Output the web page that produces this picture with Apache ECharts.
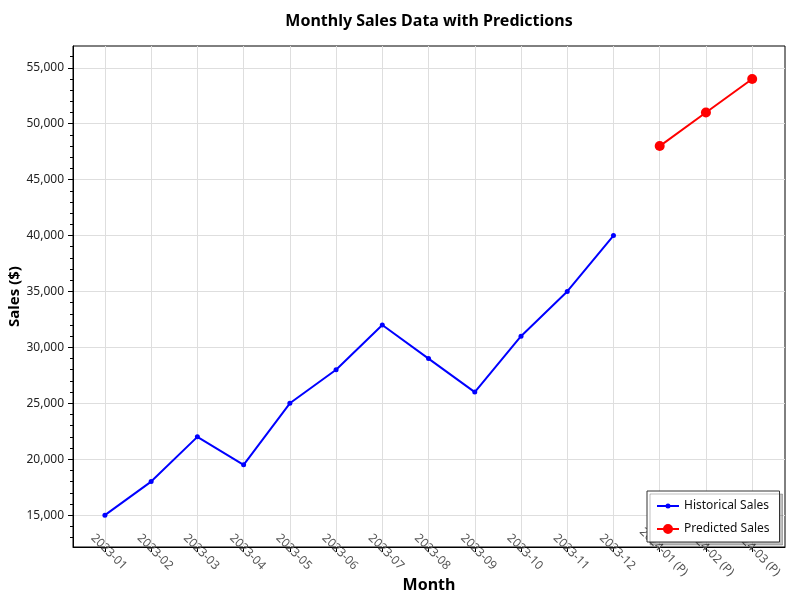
<!DOCTYPE html>
<html>
<head>
<meta charset="utf-8">
<script src="https://cdn.jsdelivr.net/npm/echarts@6/dist/echarts.min.js"></script>
<style>html,body{margin:0;padding:0;background:#fff}#c{width:800px;height:600px}</style>
</head>
<body>
<div id="c"></div>
<script>
const months = ['2023-01','2023-02','2023-03','2023-04','2023-05','2023-06','2023-07','2023-08','2023-09','2023-10','2023-11','2023-12','2024-01 (P)','2024-02 (P)','2024-03 (P)'];
const historicalSales = [15000, 18000, 22000, 19500, 25000, 28000, 32000, 29000, 26000, 31000, 35000, 40000];
const predictedSales = [48000, 51000, 54000];
const yTicks = [15000, 20000, 25000, 30000, 35000, 40000, 45000, 50000, 55000];
const yMinorTicks = [13000,14000,16000,17000,18000,19000,21000,22000,23000,24000,26000,27000,28000,29000,31000,32000,33000,34000,36000,37000,38000,39000,41000,42000,43000,44000,46000,47000,48000,49000,51000,52000,53000,54000,56000];

const xIdx = months.map((m, i) => i);
const predStart = historicalSales.length;
const font = '"Noto Sans", "DejaVu Sans", sans-serif';

const iconSmall = 'path://M0,6 L22,6 L22,8 L0,8 Z M8.5,7 A2.5,2.5 0 1 1 13.5,7 A2.5,2.5 0 1 1 8.5,7 Z';
const iconBig = 'path://M0,6 L22,6 L22,8 L0,8 Z M6,7 A5,5 0 1 1 16,7 A5,5 0 1 1 6,7 Z';

const chart = echarts.init(document.getElementById('c'));
chart.setOption({
  animation: false,
  textStyle: { fontFamily: font },
  title: {
    text: 'Monthly Sales Data with Predictions',
    left: 424, top: 8, textAlign: 'center',
    textStyle: { fontSize: 16, fontWeight: 'bold', color: '#000', fontFamily: font }
  },
  grid: { left: 73, right: 15, top: 46, bottom: 53, show: true, borderColor: '#000', borderWidth: 1, containLabel: false, outerBoundsMode: 'none' },
  legend: {
    orient: 'vertical', left: 647, top: 491,
    backgroundColor: '#fff', borderColor: '#333', borderWidth: 1, borderRadius: 0,
    padding: [9, 10, 7, 10], itemGap: 11, itemWidth: 22, itemHeight: 14,
    symbolKeepAspect: true,
    shadowColor: 'rgba(0,0,0,0.25)', shadowOffsetX: 3, shadowOffsetY: 3, shadowBlur: 0,
    textStyle: { fontSize: 12, color: '#111', fontFamily: font },
    data: [
      { name: 'Historical Sales', icon: iconSmall },
      { name: 'Predicted Sales', icon: iconBig }
    ]
  },
  xAxis: {
    type: 'value', min: -0.69, max: 14.71,
    name: 'Month', nameLocation: 'middle', nameGap: 30, nameMoveOverlap: false,
    nameTextStyle: { fontSize: 16, fontWeight: 'bold', color: '#000', fontFamily: font },
    axisLine: { onZero: false, lineStyle: { color: '#000', width: 1 } },
    axisTick: { show: true, inside: false, length: 5, customValues: xIdx, lineStyle: { color: '#000' } },
    axisLabel: {
      customValues: xIdx, rotate: -45, align: 'center', verticalAlign: 'middle', margin: 1,
      padding: [0, 0, 9, 11],
      fontSize: 12, color: '#555', fontFamily: font,
      formatter: v => months[Math.round(v)]
    },
    splitLine: { show: true, lineStyle: { color: '#dedede', width: 1 } }
  },
  yAxis: [{
    type: 'value', min: 12150, max: 56950,
    name: 'Sales ($)', nameLocation: 'middle', nameGap: 51, nameMoveOverlap: false,
    nameTextStyle: { fontSize: 15, fontWeight: 'bold', color: '#000', fontFamily: font },
    axisLine: { show: true, onZero: false, lineStyle: { color: '#000', width: 1 } },
    axisTick: { show: true, length: 5, customValues: yTicks, lineStyle: { color: '#000' } },
    axisLabel: {
      customValues: yTicks, fontSize: 12, color: '#222', margin: 9, fontFamily: font,
      formatter: v => v.toLocaleString('en-US')
    },
    splitLine: { show: true, lineStyle: { color: '#dedede', width: 1 } }
  }, {
    type: 'value', min: 12150, max: 56950, position: 'left',
    axisLine: { show: false, onZero: false },
    axisTick: { show: true, length: 3, customValues: yMinorTicks, lineStyle: { color: '#000' } },
    axisLabel: { show: false },
    splitLine: { show: false }
  }],
  series: [{
    name: 'Historical Sales', type: 'line', yAxisIndex: 0,
    data: historicalSales.map((v, i) => [xIdx[i], v]),
    symbol: 'circle', symbolSize: 5,
    lineStyle: { color: '#0000ff', width: 2 },
    itemStyle: { color: '#0000ff' }
  }, {
    name: 'Predicted Sales', type: 'line', yAxisIndex: 0,
    data: predictedSales.map((v, i) => [xIdx[predStart + i], v]),
    symbol: 'circle', symbolSize: 10,
    lineStyle: { color: '#ff0000', width: 2 },
    itemStyle: { color: '#ff0000' }
  }]
});
</script>
</body>
</html>
